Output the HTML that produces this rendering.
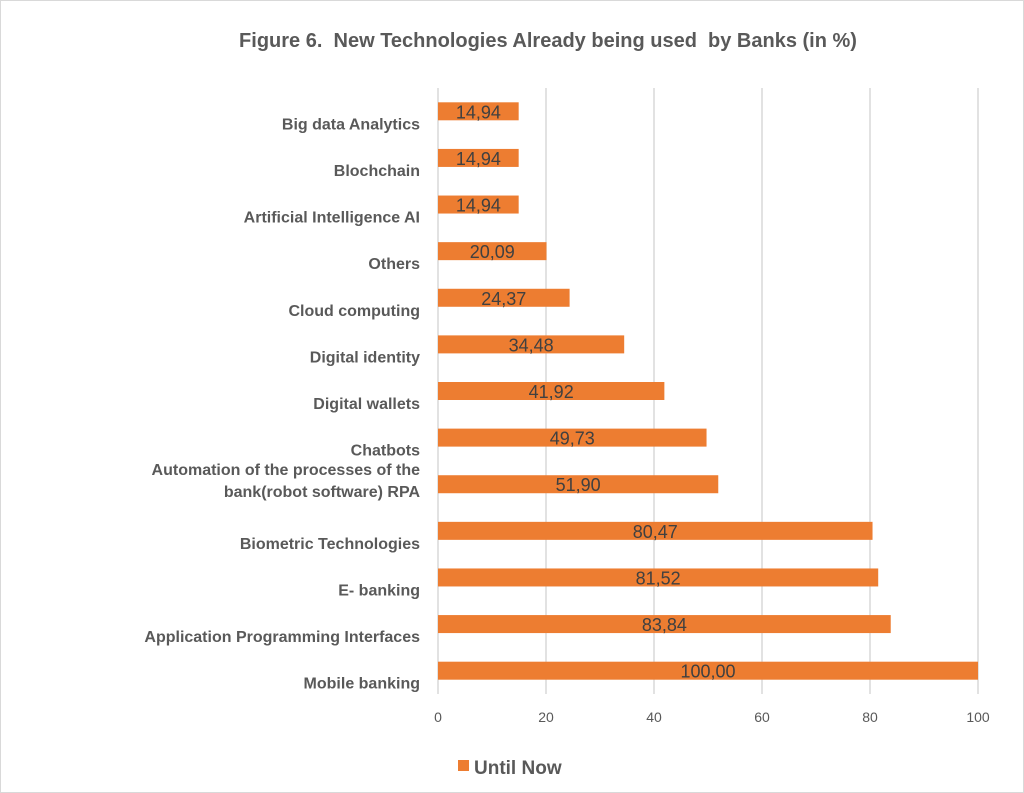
<!DOCTYPE html>
<html><head><meta charset="utf-8"><style>
body{margin:0;background:#fff;}
svg{display:block;font-family:"Liberation Sans",sans-serif;}
</style></head><body>
<svg id="chart" width="1024" height="793">
<rect x="0.5" y="0.5" width="1023" height="792" fill="#fff" stroke="#d9d9d9"/>
<text x="548" y="47" text-anchor="middle" font-size="20" font-weight="bold" fill="#595959" style="white-space:pre">Figure 6.  New Technologies Already being used  by Banks (in %)</text>
<g id="grid"></g><g id="bars"></g><g id="labels"></g><g id="ticks"></g>
<rect x="458" y="760" width="11" height="11" fill="#ed7d31"/>
<text x="474" y="774" font-size="19" font-weight="bold" fill="#595959">Until Now</text>
</svg>
<script>
const categories=["Big data Analytics","Blochchain","Artificial Intelligence AI","Others","Cloud computing","Digital identity","Digital wallets","Chatbots","Automation of the processes of the|bank(robot software) RPA","Biometric Technologies","E- banking","Application Programming Interfaces","Mobile banking"];
const values=[14.94,14.94,14.94,20.09,24.37,34.48,41.92,49.73,51.90,80.47,81.52,83.84,100.00];
const ticks=[0,20,40,60,80,100];
const NS="http://www.w3.org/2000/svg";
const x0=438,x1=978,yTop=88,yBot=694;
const xs=v=>x0+(x1-x0)*v/100;
const band=(yBot-yTop)/categories.length;
function mk(t,a,p){const e=document.createElementNS(NS,t);for(const k in a)e.setAttribute(k,a[k]);p.appendChild(e);return e;}
const g=document.getElementById('grid'),b=document.getElementById('bars'),l=document.getElementById('labels'),tk=document.getElementById('ticks');
ticks.forEach(t=>{
 const ln=mk('line',{x1:xs(t),x2:xs(t),y1:yTop,y2:yBot,stroke:'#d9d9d9','stroke-width':1.5},g);
 
 
 const tx=mk('text',{x:xs(t),y:722,'text-anchor':'middle','font-size':14,fill:'#595959'},tk);
 tx.textContent=t;
 
 
});
categories.forEach((c,i)=>{
 const cy=yTop+band*(i+0.5);
 const r=mk('rect',{x:x0,y:cy-9,width:xs(values[i])-x0,height:18,fill:'#ed7d31'},b);
 
 
 const v=mk('text',{x:(x0+xs(values[i]))/2,y:cy+7,'text-anchor':'middle','font-size':18,fill:'#404040'},b);
 v.textContent=values[i].toFixed(2).replace('.',',');
 
 
 const parts=c.split('|');
 parts.forEach((p,j)=>{
  let y=cy+18;
  if(parts.length>1) y=cy-9+j*22;
  const t=mk('text',{x:420,y:y,'text-anchor':'end','font-size':16,'font-weight':'bold',fill:'#595959'},l);
  t.textContent=p;
  
  
 });
});
</script>
</body></html>
